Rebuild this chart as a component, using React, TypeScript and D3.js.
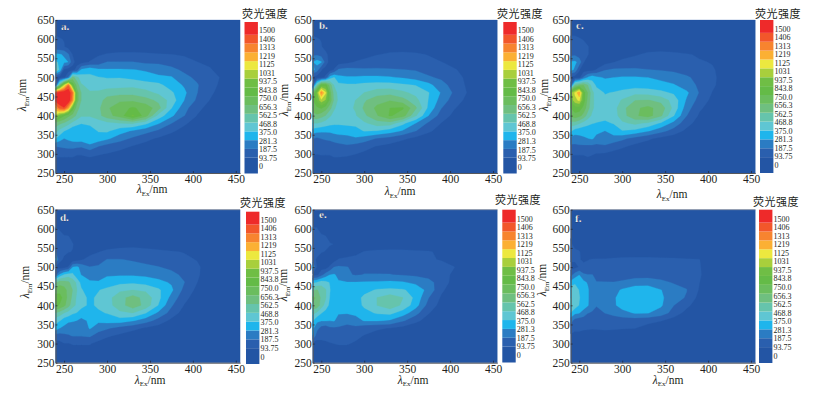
import { useEffect, useRef } from "react";
import * as d3 from "d3";

// excitation (columns) and emission (rows) wavelengths of the intensity grids
const exNm = [240, 245, 250, 255, 260, 265, 270, 280, 290, 300, 315, 330, 345, 360, 375, 390, 405, 420, 435, 455];
const emNm = [650, 600, 580, 560, 540, 520, 500, 480, 460, 440, 420, 400, 380, 360, 340, 320, 300, 250];

const xTicks = [250, 300, 350, 400, 450];
const yTicks = [250, 300, 350, 400, 450, 500, 550, 600, 650];

const levels = [0, 93.75, 187.5, 281.3, 375, 468.8, 562.5, 656.3, 750, 843.8, 937.5, 1031, 1125, 1219, 1313, 1406];
const bandColors = [
  "#2355a4", "#2a5fae", "#2b7cc3", "#1fb5ec", "#5fc6d3", "#66c4ac", "#6fbf80", "#6bbd5e",
  "#64bb47", "#6fbe45", "#a8cf3c", "#ece83f", "#fbb034", "#f7842f", "#f2572b", "#ee2a2a",
];
const legendLabels = ["1500", "1406", "1313", "1219", "1125", "1031", "937.5", "843.8", "750.0", "656.3", "562.5", "468.8", "375.0", "281.3", "187.5", "93.75", "0"];

const gridA = [
  [15, 15, 15, 15, 15, 12, 12, 10, 10, 10, 10, 10, 10, 10, 10, 10, 8, 8, 8, 8],
  [110, 100, 90, 50, 25, 15, 15, 15, 15, 15, 15, 15, 15, 15, 15, 12, 10, 10, 8, 8],
  [120, 110, 100, 60, 35, 20, 20, 30, 40, 50, 55, 55, 50, 40, 35, 30, 25, 15, 10, 8],
  [300, 290, 270, 200, 90, 50, 50, 60, 85, 100, 110, 110, 105, 100, 95, 85, 70, 40, 20, 8],
  [380, 370, 300, 280, 120, 60, 60, 100, 130, 190, 190, 190, 170, 170, 150, 120, 95, 70, 30, 10],
  [500, 350, 80, 50, 60, 130, 300, 340, 300, 290, 290, 285, 270, 240, 210, 170, 125, 105, 40, 10],
  [60, 50, 70, 200, 600, 500, 420, 400, 380, 370, 370, 350, 320, 300, 290, 210, 170, 130, 80, 12],
  [100, 600, 1000, 1300, 800, 620, 480, 430, 410, 420, 430, 440, 420, 400, 330, 270, 195, 125, 70, 15],
  [1400, 1500, 1500, 1500, 1300, 700, 560, 480, 490, 520, 530, 530, 500, 450, 390, 300, 190, 110, 55, 15],
  [1450, 1500, 1500, 1500, 1250, 700, 560, 490, 520, 600, 640, 640, 600, 540, 430, 280, 170, 90, 40, 12],
  [1200, 1350, 1400, 1200, 800, 600, 520, 490, 540, 640, 720, 760, 720, 600, 380, 220, 120, 60, 25, 10],
  [1000, 850, 760, 680, 620, 540, 480, 480, 530, 620, 700, 860, 700, 430, 300, 190, 90, 40, 15, 10],
  [620, 580, 550, 500, 440, 400, 380, 390, 410, 440, 470, 480, 400, 290, 190, 110, 50, 20, 10, 8],
  [500, 440, 380, 340, 300, 300, 300, 340, 380, 390, 320, 270, 220, 170, 110, 60, 25, 12, 8, 5],
  [380, 320, 280, 300, 320, 330, 330, 340, 340, 300, 230, 170, 120, 80, 50, 25, 10, 8, 5, 5],
  [190, 200, 210, 220, 220, 210, 200, 260, 190, 150, 120, 90, 60, 40, 20, 10, 6, 5, 5, 5],
  [110, 110, 110, 110, 110, 100, 100, 110, 100, 90, 70, 50, 30, 20, 10, 6, 5, 5, 5, 5],
  [15, 15, 15, 15, 15, 15, 15, 15, 12, 10, 10, 8, 8, 8, 8, 5, 5, 5, 5, 5],
];

const gridB = [
  [15, 15, 15, 15, 15, 15, 15, 15, 15, 15, 15, 15, 15, 15, 15, 12, 10, 10, 8, 8],
  [110, 100, 90, 40, 20, 15, 15, 15, 15, 15, 15, 15, 15, 15, 15, 12, 10, 10, 8, 8],
  [120, 110, 100, 60, 30, 15, 15, 15, 20, 30, 50, 60, 60, 50, 40, 25, 15, 10, 8, 8],
  [170, 170, 150, 120, 60, 30, 20, 30, 40, 60, 90, 105, 110, 105, 90, 60, 30, 15, 10, 8],
  [280, 320, 290, 150, 60, 50, 50, 70, 100, 120, 140, 140, 130, 120, 110, 95, 70, 35, 15, 8],
  [320, 230, 100, 50, 50, 100, 200, 220, 210, 200, 200, 195, 190, 180, 150, 120, 100, 70, 30, 10],
  [60, 50, 60, 110, 320, 380, 310, 290, 290, 300, 300, 290, 270, 240, 200, 170, 120, 80, 30, 10],
  [100, 500, 800, 800, 620, 460, 400, 390, 390, 400, 410, 410, 390, 370, 310, 220, 150, 80, 40, 12],
  [650, 900, 1250, 1050, 700, 520, 440, 420, 430, 470, 520, 530, 490, 440, 380, 270, 170, 90, 40, 12],
  [750, 850, 1000, 920, 720, 540, 450, 440, 470, 550, 620, 650, 600, 500, 370, 240, 140, 70, 30, 10],
  [700, 730, 760, 700, 600, 480, 440, 440, 480, 580, 680, 750, 760, 580, 350, 190, 100, 50, 20, 10],
  [620, 640, 600, 560, 480, 440, 430, 430, 460, 540, 650, 760, 700, 480, 280, 140, 70, 30, 12, 8],
  [470, 470, 450, 420, 400, 390, 390, 400, 400, 450, 520, 520, 400, 280, 170, 90, 40, 15, 8, 6],
  [330, 310, 300, 300, 300, 310, 310, 310, 340, 380, 370, 330, 270, 190, 110, 55, 20, 10, 6, 5],
  [190, 170, 190, 200, 210, 230, 250, 260, 270, 240, 180, 150, 110, 70, 40, 20, 10, 6, 5, 4],
  [110, 110, 120, 130, 130, 140, 150, 170, 150, 120, 90, 65, 40, 25, 15, 8, 5, 4, 4, 4],
  [100, 95, 100, 100, 100, 110, 110, 105, 95, 80, 50, 30, 15, 10, 6, 5, 4, 4, 4, 4],
  [15, 15, 15, 15, 15, 15, 15, 15, 12, 10, 8, 8, 8, 6, 5, 5, 4, 4, 4, 4],
];

const gridC = [
  [15, 15, 15, 15, 15, 15, 15, 15, 15, 15, 15, 15, 15, 12, 12, 10, 10, 8, 8, 8],
  [110, 110, 100, 90, 60, 30, 15, 15, 15, 15, 15, 15, 15, 12, 12, 10, 10, 8, 8, 8],
  [120, 115, 110, 110, 100, 60, 30, 15, 15, 25, 45, 55, 60, 55, 40, 30, 15, 10, 8, 8],
  [160, 170, 130, 120, 100, 50, 20, 20, 30, 50, 85, 110, 115, 110, 100, 85, 50, 20, 10, 8],
  [290, 300, 250, 100, 50, 40, 40, 60, 90, 120, 130, 135, 135, 130, 115, 100, 90, 50, 20, 8],
  [320, 260, 100, 50, 50, 60, 100, 180, 200, 200, 200, 190, 180, 170, 150, 130, 100, 70, 30, 10],
  [60, 50, 70, 200, 290, 340, 300, 270, 280, 290, 290, 280, 260, 230, 200, 160, 110, 60, 25, 10],
  [120, 550, 620, 650, 560, 420, 360, 330, 320, 330, 330, 320, 310, 290, 230, 170, 110, 50, 20, 8],
  [900, 1050, 1220, 800, 650, 500, 410, 370, 380, 400, 440, 430, 400, 360, 300, 180, 90, 40, 15, 6],
  [850, 1000, 1050, 800, 620, 500, 420, 390, 410, 480, 560, 570, 530, 430, 270, 150, 70, 30, 10, 5],
  [750, 800, 800, 720, 600, 490, 430, 405, 430, 530, 640, 680, 620, 440, 230, 110, 50, 20, 8, 5],
  [680, 720, 690, 620, 520, 450, 420, 400, 420, 520, 640, 700, 580, 380, 190, 80, 30, 12, 6, 5],
  [530, 520, 480, 430, 400, 380, 370, 360, 380, 450, 490, 450, 360, 250, 130, 50, 15, 8, 5, 4],
  [390, 330, 310, 310, 310, 310, 300, 280, 320, 370, 350, 290, 220, 150, 70, 25, 10, 5, 4, 4],
  [240, 230, 260, 270, 280, 290, 260, 280, 250, 210, 150, 110, 70, 40, 20, 8, 4, 4, 4, 4],
  [170, 170, 170, 170, 170, 170, 160, 170, 130, 110, 70, 45, 25, 12, 6, 4, 4, 4, 4, 4],
  [100, 100, 100, 100, 110, 100, 90, 85, 70, 50, 25, 12, 6, 5, 4, 4, 4, 4, 4, 4],
  [10, 10, 10, 10, 10, 10, 10, 10, 8, 8, 6, 5, 5, 4, 4, 4, 4, 4, 4, 4],
];

const gridD = [
  [15, 15, 15, 15, 12, 12, 10, 10, 10, 10, 10, 10, 10, 10, 8, 8, 8, 5, 5, 5],
  [100, 90, 60, 30, 15, 15, 12, 10, 10, 10, 10, 10, 10, 10, 8, 8, 8, 5, 5, 5],
  [110, 105, 100, 100, 60, 30, 15, 12, 12, 15, 20, 25, 25, 20, 15, 10, 8, 5, 5, 5],
  [120, 115, 110, 105, 100, 60, 25, 15, 20, 40, 60, 70, 60, 50, 40, 30, 20, 12, 8, 5],
  [190, 120, 110, 100, 90, 50, 40, 60, 90, 115, 125, 125, 120, 110, 100, 90, 60, 25, 10, 5],
  [300, 120, 80, 40, 40, 50, 80, 130, 150, 190, 190, 180, 170, 150, 130, 110, 90, 50, 15, 5],
  [70, 50, 60, 100, 280, 300, 250, 190, 200, 210, 210, 210, 200, 190, 170, 130, 105, 60, 20, 6],
  [150, 300, 380, 420, 400, 300, 280, 220, 240, 270, 270, 270, 260, 240, 210, 170, 105, 50, 15, 5],
  [550, 620, 600, 580, 520, 450, 340, 300, 290, 320, 350, 360, 340, 310, 270, 190, 95, 35, 10, 5],
  [700, 720, 700, 620, 560, 470, 390, 300, 370, 400, 450, 470, 450, 390, 300, 160, 70, 25, 8, 4],
  [800, 780, 720, 620, 540, 450, 400, 360, 390, 430, 530, 600, 530, 400, 250, 120, 50, 15, 5, 4],
  [780, 740, 680, 600, 500, 450, 400, 360, 390, 430, 520, 620, 530, 370, 200, 90, 30, 10, 4, 4],
  [560, 520, 470, 430, 390, 370, 340, 300, 360, 380, 450, 470, 380, 260, 150, 50, 15, 6, 4, 3],
  [410, 380, 320, 300, 290, 280, 250, 300, 300, 320, 330, 290, 230, 150, 70, 25, 8, 4, 3, 3],
  [330, 280, 260, 220, 230, 240, 210, 290, 230, 200, 150, 120, 80, 50, 20, 8, 4, 3, 3, 3],
  [140, 140, 160, 180, 190, 190, 190, 200, 140, 105, 75, 40, 20, 8, 4, 4, 3, 3, 3, 3],
  [60, 70, 90, 90, 100, 100, 100, 100, 70, 50, 25, 10, 5, 4, 4, 3, 3, 3, 3, 3],
  [10, 10, 10, 10, 10, 10, 10, 10, 8, 6, 5, 4, 4, 3, 3, 3, 3, 3, 3, 3],
];

const gridE = [
  [12, 12, 12, 12, 12, 10, 10, 10, 10, 10, 8, 8, 8, 8, 8, 5, 5, 5, 4, 4],
  [100, 100, 50, 25, 12, 12, 10, 10, 10, 10, 8, 8, 8, 8, 8, 5, 5, 5, 4, 4],
  [100, 110, 115, 100, 50, 20, 10, 10, 10, 10, 12, 15, 15, 12, 10, 8, 5, 5, 4, 4],
  [110, 115, 115, 110, 105, 90, 20, 10, 10, 20, 40, 50, 45, 40, 30, 20, 10, 8, 5, 4],
  [190, 130, 100, 90, 50, 30, 25, 30, 60, 100, 110, 110, 110, 105, 100, 80, 50, 20, 8, 4],
  [130, 80, 50, 40, 30, 50, 100, 120, 130, 125, 125, 125, 120, 110, 100, 90, 70, 30, 10, 4],
  [300, 90, 60, 50, 110, 190, 200, 190, 170, 170, 170, 165, 160, 150, 130, 110, 95, 40, 12, 4],
  [60, 70, 150, 230, 280, 290, 260, 200, 180, 190, 190, 190, 180, 170, 150, 120, 80, 30, 8, 4],
  [350, 380, 420, 400, 370, 300, 290, 285, 285, 290, 295, 300, 290, 260, 220, 140, 60, 20, 5, 4],
  [550, 570, 530, 480, 380, 320, 300, 295, 320, 345, 385, 395, 385, 340, 250, 110, 40, 10, 4, 3],
  [680, 640, 540, 480, 370, 320, 300, 295, 340, 395, 470, 520, 470, 345, 190, 80, 25, 6, 3, 3],
  [640, 620, 520, 430, 350, 315, 295, 295, 335, 390, 470, 530, 450, 320, 150, 60, 15, 5, 3, 3],
  [500, 450, 380, 340, 305, 300, 295, 290, 310, 345, 385, 400, 330, 220, 100, 35, 8, 4, 3, 3],
  [380, 300, 290, 290, 285, 290, 220, 190, 230, 290, 290, 270, 200, 120, 50, 15, 5, 3, 3, 3],
  [300, 220, 150, 130, 170, 170, 180, 185, 170, 120, 105, 90, 60, 30, 10, 5, 3, 3, 3, 3],
  [280, 130, 120, 120, 120, 120, 130, 150, 110, 90, 60, 30, 15, 6, 4, 3, 3, 3, 3, 3],
  [60, 60, 70, 80, 90, 95, 100, 100, 85, 60, 25, 10, 5, 4, 3, 3, 3, 3, 3, 3],
  [10, 10, 10, 10, 10, 10, 10, 10, 8, 6, 5, 4, 4, 3, 3, 3, 3, 3, 3, 3],
];

const gridF = [
  [10, 10, 10, 10, 10, 8, 8, 8, 8, 8, 8, 8, 8, 6, 6, 5, 4, 4, 4, 3],
  [50, 30, 15, 10, 10, 8, 8, 8, 8, 8, 8, 8, 8, 6, 6, 5, 4, 4, 4, 3],
  [90, 60, 20, 10, 10, 8, 8, 8, 8, 8, 8, 8, 8, 6, 6, 5, 4, 4, 4, 3],
  [105, 70, 30, 12, 10, 10, 10, 10, 10, 10, 10, 10, 10, 8, 8, 5, 4, 4, 4, 3],
  [115, 110, 105, 50, 20, 10, 20, 30, 40, 45, 50, 50, 45, 40, 35, 20, 8, 4, 4, 3],
  [110, 105, 100, 80, 90, 100, 100, 100, 105, 110, 110, 110, 108, 105, 100, 95, 50, 10, 5, 4],
  [60, 70, 100, 115, 115, 125, 130, 130, 130, 130, 130, 125, 125, 120, 115, 100, 40, 8, 4, 4],
  [150, 230, 280, 200, 190, 190, 170, 160, 150, 150, 150, 150, 145, 140, 130, 105, 30, 6, 4, 3],
  [320, 360, 340, 310, 270, 190, 190, 190, 190, 200, 230, 235, 210, 180, 170, 95, 20, 5, 3, 3],
  [430, 420, 370, 330, 295, 220, 195, 190, 245, 295, 340, 340, 285, 220, 190, 85, 10, 4, 3, 3],
  [470, 430, 380, 340, 295, 220, 195, 190, 265, 330, 350, 350, 300, 220, 180, 60, 8, 3, 3, 3],
  [480, 430, 370, 330, 290, 215, 195, 190, 265, 320, 350, 345, 295, 190, 120, 35, 5, 3, 3, 3],
  [370, 300, 285, 240, 190, 180, 150, 190, 220, 250, 290, 285, 240, 150, 60, 15, 4, 3, 3, 3],
  [220, 150, 130, 130, 120, 120, 115, 130, 130, 135, 130, 120, 100, 50, 20, 5, 3, 3, 3, 3],
  [150, 110, 110, 105, 105, 100, 100, 105, 105, 100, 95, 60, 30, 10, 4, 3, 3, 3, 3, 3],
  [70, 70, 70, 60, 50, 50, 60, 60, 50, 30, 15, 8, 5, 4, 3, 3, 3, 3, 3, 3],
  [10, 10, 10, 10, 10, 10, 10, 10, 10, 8, 6, 5, 4, 3, 3, 3, 3, 3, 3, 3],
  [8, 8, 8, 8, 8, 8, 8, 8, 6, 6, 5, 4, 3, 3, 3, 3, 3, 3, 3, 3],
];

const serif = "'Liberation Serif', 'Noto Sans CJK SC', serif";
const inkColor = "#231f20";

type PanelSpec = {
  name: string;
  grid: number[][];
  left: number; top: number;
  legendX: number; legendTop: number; legendBottom: number;
  labelTop: number; labelBottom: number;
  titleX: number; titleY: number;
  nameX: number; nameY: number;
  xLabelX: number; xLabelY: number;
  yLabelX: number; yLabelY: number;
  topRule: boolean;
};

const panels: PanelSpec[] = [
  { name: "a.", grid: gridA, left: 55.5, top: 20, legendX: 244.5, legendTop: 22, legendBottom: 173.5, labelTop: 30.7, labelBottom: 166.7, titleX: 265, titleY: 18, nameX: 61, nameY: 30, xLabelX: 152, xLabelY: 193, yLabelX: 26, yLabelY: 95, topRule: false },
  { name: "b.", grid: gridB, left: 312.7, top: 20, legendX: 503.3, legendTop: 22, legendBottom: 173.5, labelTop: 30.7, labelBottom: 167, titleX: 520, titleY: 18, nameX: 319, nameY: 29, xLabelX: 400, xLabelY: 195, yLabelX: 288, yLabelY: 100, topRule: false },
  { name: "c.", grid: gridC, left: 570.7, top: 20, legendX: 760, legendTop: 20, legendBottom: 173, labelTop: 29, labelBottom: 165, titleX: 778, titleY: 18, nameX: 576, nameY: 29, xLabelX: 672, xLabelY: 198, yLabelX: 548, yLabelY: 95, topRule: false },
  { name: "d.", grid: gridD, left: 55.5, top: 209.7, legendX: 246, legendTop: 211.7, legendBottom: 364, labelTop: 220, labelBottom: 357, titleX: 263, titleY: 207, nameX: 60, nameY: 221, xLabelX: 150, xLabelY: 383.5, yLabelX: 29, yLabelY: 282, topRule: true },
  { name: "e.", grid: gridE, left: 312.7, top: 209.7, legendX: 502.3, legendTop: 209.7, legendBottom: 362.5, labelTop: 219, labelBottom: 355, titleX: 518, titleY: 204, nameX: 319, nameY: 218, xLabelX: 413, xLabelY: 383.5, yLabelX: 287, yLabelY: 285, topRule: true },
  { name: "f.", grid: gridF, left: 570.7, top: 209.7, legendX: 759, legendTop: 209.7, legendBottom: 363, labelTop: 219, labelBottom: 356, titleX: 776, titleY: 206, nameX: 575, nameY: 222, xLabelX: 668, xLabelY: 383.5, yLabelX: 546, yLabelY: 280, topRule: true },
];

const plotW = 184.6;
const plotH = 153;
const legendW = 13.4;

function Panel({ spec }: { spec: PanelSpec }) {
  const xAxisRef = useRef<SVGGElement>(null);
  const yAxisRef = useRef<SVGGElement>(null);

  const x = d3.scaleLinear().domain([240, 455]).range([spec.left, spec.left + plotW]);
  const y = d3.scaleLinear().domain([250, 650]).range([spec.top + plotH, spec.top]);

  // grid index -> wavelength, the grids are not evenly spaced
  const exOfIndex = d3.scaleLinear().domain(d3.range(exNm.length)).range(exNm).clamp(true);
  const emOfIndex = d3.scaleLinear().domain(d3.range(emNm.length)).range(emNm).clamp(true);

  const toPlot = d3.geoTransform({
    point(px: number, py: number) {
      (this as any).stream.point(x(exOfIndex(px - 0.5)), y(emOfIndex(py - 0.5)));
    },
  });
  const path = d3.geoPath(toPlot);

  const contours = d3
    .contours()
    .size([exNm.length, emNm.length])
    .smooth(true)
    .thresholds(levels)(spec.grid.flat());

  const bandY = d3
    .scaleBand<number>()
    .domain(d3.range(bandColors.length).reverse())
    .range([spec.legendTop + 4, spec.legendBottom - 7]);
  const labelY = d3.scalePoint<string>().domain(legendLabels).range([spec.labelTop, spec.labelBottom]);

  useEffect(() => {
    const styleAxis = (g: any) => {
      g.selectAll(".domain").attr("stroke", "#56585c").attr("stroke-width", 1);
      g.selectAll(".tick line").attr("stroke", inkColor).attr("stroke-width", 0.6);
      g.selectAll("text")
        .attr("fill", inkColor)
        .attr("font-family", serif)
        .attr("font-size", 11.5);
    };
    d3.select(xAxisRef.current)
      .attr("transform", `translate(0,${spec.top + plotH})`)
      .call(d3.axisBottom(x).tickValues(xTicks).tickSize(-2).tickPadding(2).tickSizeOuter(0) as any)
      .call(styleAxis);
    d3.select(yAxisRef.current)
      .attr("transform", `translate(${spec.left},0)`)
      .call(d3.axisLeft(y).tickValues(yTicks).tickSize(-2).tickPadding(1).tickSizeOuter(0) as any)
      .call(styleAxis);
  }, []);

  return (
    <g>
      {contours.map((c, i) => (
        <path key={i} d={path(c as any) ?? ""} fill={bandColors[i]} stroke={bandColors[i]} strokeWidth={0.3} />
      ))}
      {spec.topRule && (
        <line x1={spec.left} x2={spec.left + plotW} y1={spec.top} y2={spec.top} stroke="#8f93a0" strokeWidth={0.8} />
      )}
      <g ref={xAxisRef} />
      <g ref={yAxisRef} />
      <text x={spec.nameX} y={spec.nameY} fill="#fff" stroke="#1c2c50" strokeWidth={0.25} fontFamily={serif} fontSize={11} fontWeight="bold">
        {spec.name}
      </text>

      <text x={spec.xLabelX} y={spec.xLabelY} textAnchor="middle" fontFamily={serif} fontSize={11.5} fill={inkColor}>
        <tspan fontStyle="italic">λ</tspan>
        <tspan fontSize={7} dy={2.5}>Ex</tspan>
        <tspan dy={-2.5}>/nm</tspan>
      </text>
      <text
        transform={`translate(${spec.yLabelX},${spec.yLabelY}) rotate(-90)`}
        textAnchor="middle"
        fontFamily={serif}
        fontSize={11.5}
        fill={inkColor}
      >
        <tspan fontStyle="italic">λ</tspan>
        <tspan fontSize={7} dy={2.5}>Em</tspan>
        <tspan dy={-2.5}>/nm</tspan>
      </text>

      <text x={spec.titleX} y={spec.titleY} textAnchor="middle" fontFamily={serif} fontSize={11} letterSpacing={0.5} fill={inkColor}>
        荧光强度
      </text>
      {bandColors.map((color, i) => {
        const isFirst = i === 0;
        const isLast = i === bandColors.length - 1;
        const top = isLast ? spec.legendTop : bandY(i)!;
        const bottom = isFirst ? spec.legendBottom : bandY(i)! + bandY.bandwidth();
        return <rect key={color} x={spec.legendX} y={top} width={legendW} height={bottom - top} fill={color} />;
      })}
      {legendLabels.map((label) => (
        <text
          key={label}
          x={spec.legendX + legendW + 1}
          y={labelY(label)}
          dy="0.32em"
          fontFamily={serif}
          fontSize={8}
          fill={inkColor}
        >
          {label}
        </text>
      ))}
    </g>
  );
}

export default function App() {
  return (
    <svg width={813} height={397} style={{ position: "absolute", left: 0, top: 0, background: "#fff" }}>
      {panels.map((p) => (
        <Panel key={p.name} spec={p} />
      ))}
    </svg>
  );
}
